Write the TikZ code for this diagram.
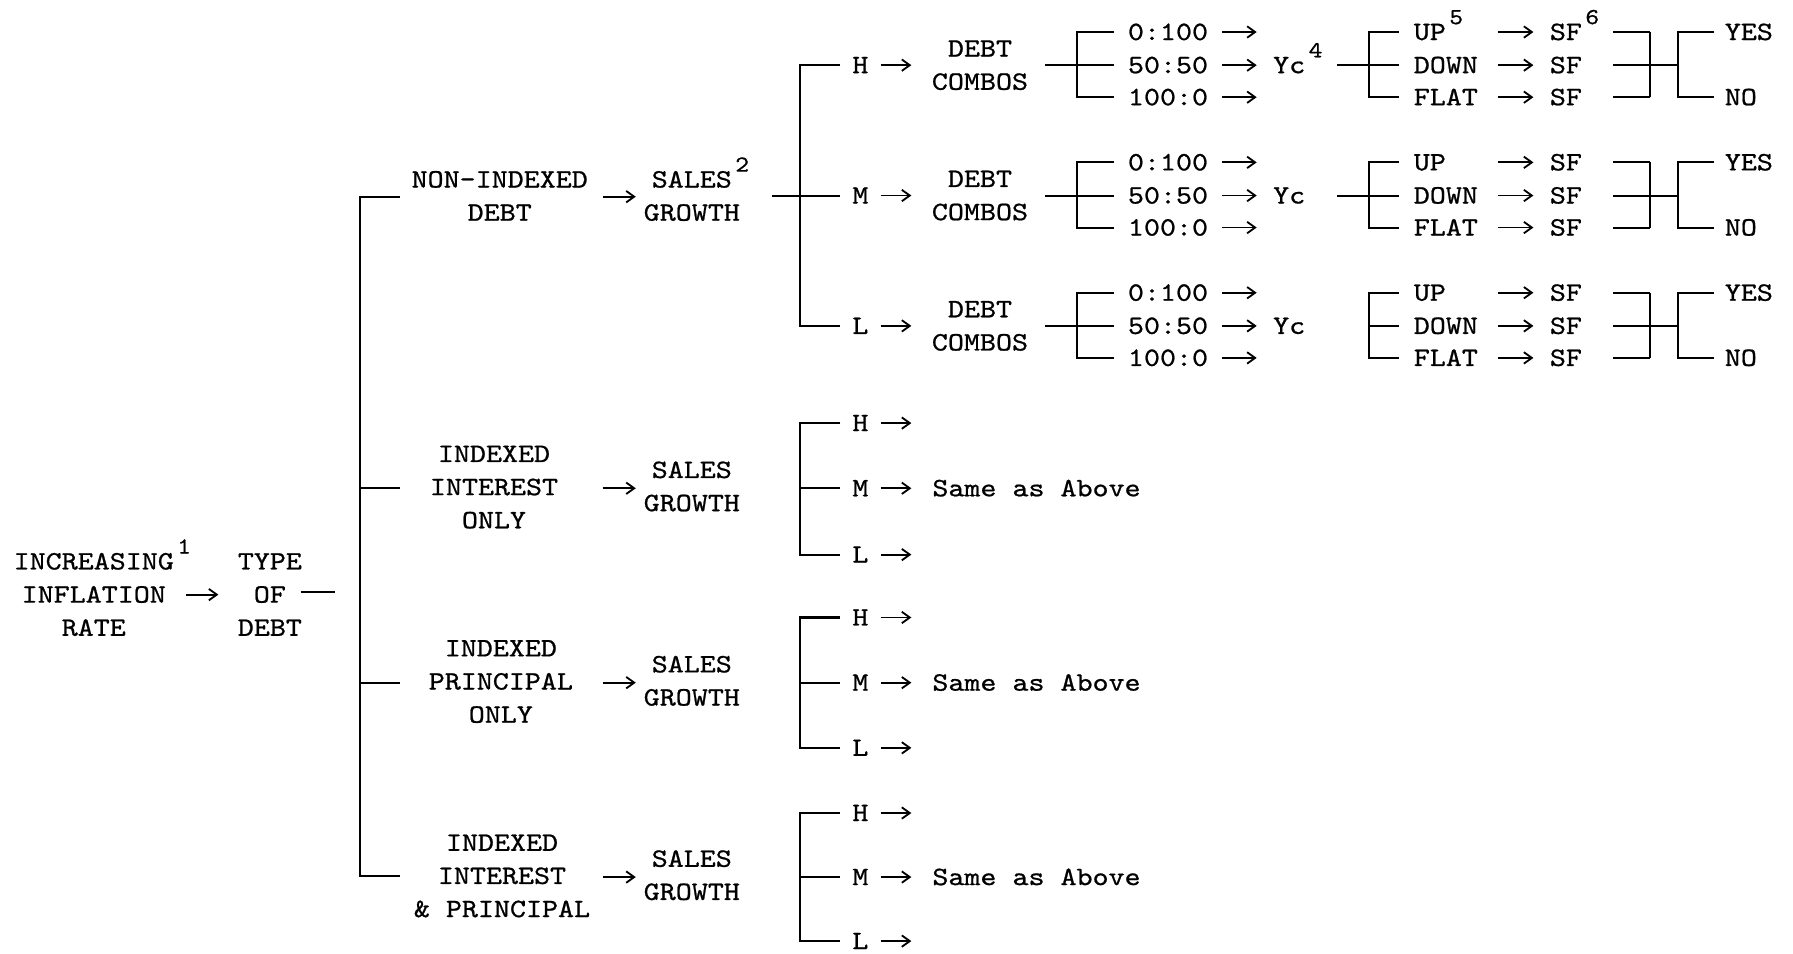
\documentclass[tikz,border=0pt]{standalone}
\usepackage{fontspec}
\newfontfamily\tw{lmmono10-regular.otf}[FakeStretch=1.15, FakeBold=0.8]
\usetikzlibrary{arrows.meta}
\newcommand\supnum[1]{\rlap{\kern1.5pt\raisebox{0.6em}{\fontsize{10}{10}\selectfont #1}}}
\begin{document}
\begin{tikzpicture}[x=0.5pt,y=-0.5pt,
  lbl/.style={inner sep=0pt, font={\tw\fontsize{11.6}{14.5}\selectfont}},
  blk/.style={lbl, align=center, anchor=base},
  lw/.style={lbl, anchor=base west},
  ln/.style={line width=0.9pt, line cap=butt, line join=miter},
  arr/.style={line width=0.8pt, -{Straight Barb[length=3.5pt,width=5pt]}}]
\useasboundingbox (0,0) rectangle (1568,834);

% ---- root (base anchor = last line) ----
\node[blk] (inc) at (82,556) {INCREASING\supnum{1}\\INFLATION\\RATE};
\coordinate (a0s) at (163,520); \coordinate (a0e) at (191,520);
\draw[arr] (a0s) -- (a0e);
\node[blk] (tod) at (236,556) {TYPE\\OF\\DEBT};
\coordinate (d0s) at (263,518); \coordinate (d0e) at (293,518);
\draw[ln] (d0s) -- (d0e);

% ---- main bracket ----
\coordinate (mb1) at (315,172); \coordinate (mb4) at (315,766);
\draw[ln] (350,172) -- (mb1) -- (mb4) -- (350,766);
\draw[ln] (315,427) -- (350,427);
\draw[ln] (315,597) -- (350,597);

% ---- level 2 ----
\node[blk] (nid) at (437,193) {NON-INDEXED\\DEBT};
\node[blk] (iio) at (432,462) {INDEXED\\INTEREST\\ONLY};
\node[blk] (ipo) at (438,632) {INDEXED\\PRINCIPAL\\ONLY};
\node[blk] (iip) at (439,802) {INDEXED\\INTEREST\\\& PRINCIPAL};
\node[blk] (sg1) at (605,193) {SALES\supnum{2}\\GROWTH};
\node[blk] (sg2) at (605,447) {SALES\\GROWTH};
\node[blk] (sg3) at (605,617) {SALES\\GROWTH};
\node[blk] (sg4) at (605,787) {SALES\\GROWTH};
\foreach \y/\n in {172/1,427/2,597/3,767/4}{
  \coordinate (l2s\n) at (527,\y); \coordinate (l2e\n) at (556,\y);
  \draw[arr] (l2s\n) -- (l2e\n);
}
\draw[ln] (675,171) -- (735,171);

% ---- H/M/L brackets ----
\foreach \a/\b/\c/\g in {57/171/285/1, 370/427/485/2, 540/597/654/3, 711/767/823/4}{
  \draw[ln] (735,\a) -- (700,\a) -- (700,\c) -- (735,\c);
  \draw[ln] (700,\b) -- (735,\b);
  \node[lw] (H\g) at (745,\a+7) {H};
  \node[lw] (M\g) at (745,\b+7) {M};
  \node[lw] (L\g) at (745,\c+7) {L};
  \foreach \r in {\a,\b,\c}{
    \draw[arr] (770,\r) -- (797,\r);
  }
}
\node[lw] (same2) at (815,434) {Same as Above};
\node[lw] (same3) at (815,604) {Same as Above};
\node[lw] (same4) at (815,774) {Same as Above};

% ---- debt combos subtrees ----
\foreach \Y in {57,171,285}{
  \ifnum\Y=57 \def\sa{4}\def\sb{5}\def\sc{6}\else\def\sa{}\def\sb{}\def\sc{}\fi
  \node[blk] (dc\Y) at (857,\Y+21.5) {DEBT\\COMBOS};
  \draw[ln] (914,\Y) -- (974,\Y);
  \draw[ln] (974,\Y-29) -- (942,\Y-29) -- (942,\Y+28) -- (974,\Y+28);
  \node[lw] (ra\Y) at (986,\Y-22) {0:100};
  \node[lw] (rb\Y) at (986,\Y+7) {50:50};
  \node[lw] (rc\Y) at (986,\Y+35) {100:0};
  \foreach \r in {-29,0,28}{
    \draw[arr] (1069,\Y+\r) -- (1099,\Y+\r);
  }
  \node[lw] (yc\Y) at (1113,\Y+7) {Yc\supnum{\sa}};
  \ifnum\Y<200 \draw[ln] (1169,\Y) -- (1197,\Y); \fi
  \draw[ln] (1223,\Y-29) -- (1197,\Y-29) -- (1197,\Y+28) -- (1223,\Y+28);
  \draw[ln] (1197,\Y) -- (1223,\Y);
  \node[lw] (up\Y) at (1236,\Y-22) {UP\supnum{\sb}};
  \node[lw] (dn\Y) at (1236,\Y+7) {DOWN};
  \node[lw] (fl\Y) at (1236,\Y+35) {FLAT};
  \node[lw] (sa\Y) at (1355,\Y-22) {SF\supnum{\sc}};
  \node[lw] (sb\Y) at (1355,\Y+7) {SF};
  \node[lw] (sc\Y) at (1355,\Y+35) {SF};
  \foreach \r in {-29,0,28}{
    \draw[arr] (1310,\Y+\r) -- (1341,\Y+\r);
    \draw[ln] (1411,\Y+\r) -- (1443,\Y+\r);
  }
  \draw[ln] (1443,\Y-29) -- (1443,\Y+28);
  \draw[ln] (1443,\Y) -- (1467,\Y);
  \draw[ln] (1499,\Y-29) -- (1467,\Y-29) -- (1467,\Y+28) -- (1499,\Y+28);
  \node[lw] (yes\Y) at (1508,\Y-22) {YES};
  \node[lw] (no\Y) at (1508,\Y+35) {NO};
}
\end{tikzpicture}
\end{document}
